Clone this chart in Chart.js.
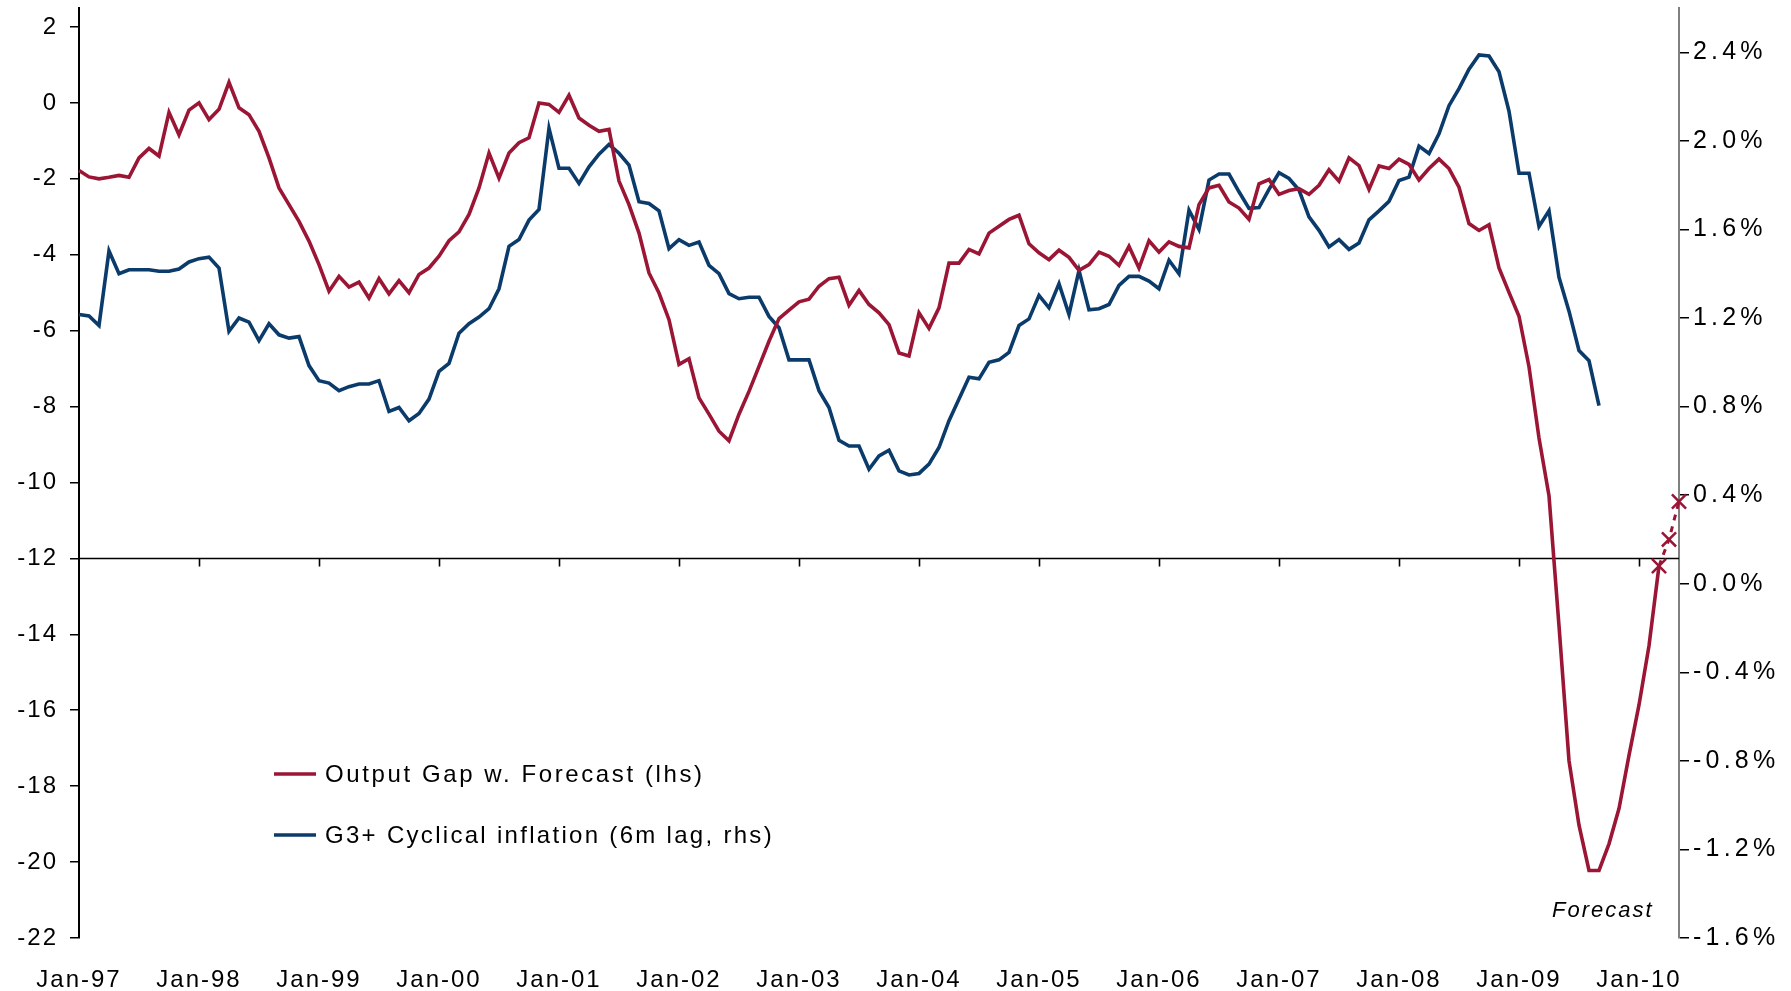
<!DOCTYPE html>
<html><head><meta charset="utf-8">
<script src="https://cdn.jsdelivr.net/npm/chart.js@4.4.1/dist/chart.umd.min.js"></script>
<style>html,body{margin:0;padding:0;background:#fff;}canvas{display:block}</style>
</head><body>
<canvas id="c" width="1791" height="991"></canvas>
<script>
// ---------- DATA ----------
const monthNames = ['Jan','Feb','Mar','Apr','May','Jun','Jul','Aug','Sep','Oct','Nov','Dec'];
const firstYear = 1997;
const monthCount = 161; // Jan-97 .. May-10
const categories = [];
for (let k = 0; k < monthCount; k++) {
  const yy = firstYear + Math.floor(k / 12);
  categories.push(monthNames[k % 12] + '-' + String(yy % 100).padStart(2, '0'));
}

// Output gap (lhs), Jan-97 .. Mar-10
const outputGap = [
  -1.78,-1.95,-2.00,-1.96,-1.91,-1.96,-1.45,-1.20,-1.40,-0.25,-0.84,-0.19,
  0.00,-0.44,-0.17,0.54,-0.13,-0.31,-0.75,-1.45,-2.24,-2.68,-3.12,-3.64,
  -4.26,-4.96,-4.57,-4.85,-4.72,-5.14,-4.63,-5.03,-4.68,-5.00,-4.52,-4.35,
  -4.04,-3.63,-3.40,-2.94,-2.24,-1.32,-1.98,-1.32,-1.05,-0.92,0.00,-0.04,
  -0.25,0.20,-0.40,-0.59,-0.75,-0.70,-2.06,-2.68,-3.43,-4.48,-5.01,-5.71,
  -6.89,-6.74,-7.77,-8.20,-8.65,-8.90,-8.20,-7.60,-6.94,-6.28,-5.68,-5.46,
  -5.24,-5.17,-4.83,-4.63,-4.59,-5.33,-4.94,-5.31,-5.53,-5.84,-6.59,-6.67,
  -5.53,-5.94,-5.40,-4.22,-4.22,-3.86,-3.98,-3.43,-3.25,-3.07,-2.96,-3.71,
  -3.95,-4.13,-3.88,-4.07,-4.41,-4.26,-3.93,-4.04,-4.28,-3.78,-4.35,-3.63,
  -3.93,-3.66,-3.78,-3.82,-2.68,-2.24,-2.17,-2.61,-2.77,-3.07,-2.13,-2.02,
  -2.41,-2.31,-2.26,-2.41,-2.17,-1.76,-2.06,-1.45,-1.65,-2.28,-1.66,-1.73,
  -1.48,-1.62,-2.03,-1.73,-1.48,-1.73,-2.22,-3.18,-3.36,-3.21,-4.35,-4.99,
  -5.62,-6.95,-8.83,-10.35,-13.78,-17.33,-19.03,-20.22,-20.22,-19.52,-18.59,-17.19,
  -15.86,-14.30,-12.20
];

// Forecast points (lhs), Mar-10 .. May-10
const forecastStart = 158;
const forecastGap = [-12.2, -11.5, -10.5];

// G3+ cyclical inflation, 6m lag (rhs, %), Jan-97 .. Sep-09
const cyclicalInflation = [
  1.216,1.209,1.166,1.503,1.400,1.418,1.418,1.418,1.411,1.411,1.421,1.453,
  1.468,1.475,1.426,1.140,1.200,1.181,1.098,1.174,1.124,1.109,1.116,0.985,
  0.917,0.906,0.872,0.890,0.902,0.902,0.917,0.778,0.796,0.736,0.769,0.834,
  0.959,0.995,1.131,1.174,1.204,1.242,1.332,1.524,1.554,1.642,1.690,2.057,
  1.876,1.876,1.808,1.883,1.940,1.984,1.944,1.891,1.725,1.717,1.684,1.513,
  1.554,1.528,1.543,1.438,1.400,1.310,1.287,1.294,1.294,1.207,1.156,1.011,
  1.011,1.011,0.872,0.796,0.648,0.622,0.622,0.517,0.577,0.603,0.510,0.491,
  0.498,0.540,0.615,0.736,0.834,0.932,0.925,1.000,1.011,1.045,1.166,1.196,
  1.302,1.246,1.355,1.216,1.415,1.237,1.242,1.261,1.347,1.388,1.388,1.367,
  1.332,1.461,1.400,1.687,1.600,1.823,1.850,1.850,1.770,1.695,1.699,1.781,
  1.856,1.830,1.778,1.657,1.596,1.521,1.554,1.510,1.539,1.643,1.684,1.727,
  1.821,1.836,1.976,1.943,2.032,2.159,2.236,2.324,2.388,2.383,2.312,2.134,
  1.854,1.854,1.613,1.684,1.384,1.231,1.053,1.007,0.804
];

const leftTicks = [-22,-20,-18,-16,-14,-12,-10,-8,-6,-4,-2,0,2];
const rightTicks = [-1.6,-1.2,-0.8,-0.4,0.0,0.4,0.8,1.2,1.6,2.0,2.4];
const xAxisCrossesAt = -12;
const legendLabels = ['Output Gap w. Forecast (lhs)', 'G3+ Cyclical inflation (6m lag, rhs)'];
const forecastNote = 'Forecast';

// ---------- STYLE ----------
const RED = '#9B1535';
const BLUE = '#0B3B6A';
const FONT = "'Liberation Sans', Arial, sans-serif";
const SPACING = '2px';
const RIGHT_SPACING = '4.2px';

function pad(arr, start, total) {
  const out = new Array(total).fill(null);
  arr.forEach((v, k) => { out[start + k] = v; });
  return out;
}

const spacingPlugin = {
  id: 'spacing',
  beforeLayout(chart) { chart.ctx.letterSpacing = SPACING; },
  afterLayout(chart) {
    const s = chart.scales.y1;
    if (!s._wrapped) {
      const orig = s.drawLabels;
      s.drawLabels = function (area) {
        const prev = this.ctx.letterSpacing;
        this.ctx.letterSpacing = RIGHT_SPACING;
        orig.call(this, area);
        this.ctx.letterSpacing = prev;
      };
      s._wrapped = true;
    }
  },
  beforeDraw(chart) { chart.ctx.letterSpacing = SPACING; }
};

const crossAxisPlugin = {
  id: 'crossAxis',
  beforeDatasetsDraw(chart) {
    const { ctx, chartArea, scales } = chart;
    const yy = Math.round(scales.y.getPixelForValue(xAxisCrossesAt)) + 0.5;
    ctx.save();
    ctx.strokeStyle = '#000';
    ctx.lineWidth = 1.6;
    ctx.beginPath();
    ctx.moveTo(chartArea.left, yy);
    ctx.lineTo(chartArea.right, yy);
    categories.forEach((c, k) => {
      if (k > 0 && c.startsWith('Jan')) {
        const px = Math.round(scales.x.getPixelForValue(k)) + 0.5;
        ctx.moveTo(px, yy);
        ctx.lineTo(px, yy + 8);
      }
    });
    ctx.stroke();
    ctx.restore();
  }
};

const legendPlugin = {
  id: 'customLegend',
  afterDraw(chart) {
    const { ctx } = chart;
    const colors = [RED, BLUE];
    const ys = [774, 835];
    const spacings = ['2.6px', '2.3px'];
    ctx.save();
    ctx.font = '24px ' + FONT;
    ctx.fillStyle = '#000';
    ctx.textBaseline = 'middle';
    ctx.textAlign = 'left';
    legendLabels.forEach((t, k) => {
      ctx.strokeStyle = colors[k];
      ctx.lineWidth = 3.5;
      ctx.beginPath();
      ctx.moveTo(274, ys[k]);
      ctx.lineTo(316, ys[k]);
      ctx.stroke();
      ctx.letterSpacing = spacings[k];
      ctx.fillText(t, 325, ys[k] + 1);
    });
    ctx.letterSpacing = SPACING;
    ctx.font = 'italic 22px ' + FONT;
    ctx.fillText(forecastNote, 1552, 911);
    ctx.restore();
  }
};

Chart.defaults.font.family = FONT;
Chart.defaults.font.size = 24;
Chart.defaults.color = '#000';

new Chart(document.getElementById('c').getContext('2d'), {
  type: 'line',
  data: {
    labels: categories,
    datasets: [
      { label: legendLabels[0], data: pad(outputGap, 0, monthCount), yAxisID: 'y',
        borderColor: RED, borderWidth: 3.6, pointRadius: 0, tension: 0, spanGaps: false },
      { label: legendLabels[1], data: pad(cyclicalInflation, 0, monthCount), yAxisID: 'y1',
        borderColor: BLUE, borderWidth: 3.6, pointRadius: 0, tension: 0, spanGaps: false },
      { label: forecastNote, data: pad(forecastGap, forecastStart, monthCount), yAxisID: 'y',
        borderColor: RED, borderWidth: 3, borderDash: [6, 6], pointStyle: 'crossRot',
        pointRadius: 10, pointBorderWidth: 2.5, pointBorderColor: RED, pointBackgroundColor: RED,
        tension: 0, clip: false }
    ]
  },
  options: {
    responsive: false,
    animation: false,
    events: [],
    layout: { autoPadding: false, padding: { top: 8, left: 0, right: 0, bottom: 0 } },
    plugins: { legend: { display: false }, tooltip: { enabled: false } },
    scales: {
      x: {
        type: 'category', offset: false,
        grid: { display: false, drawTicks: false }, border: { display: false },
        ticks: { autoSkip: false, maxRotation: 0, minRotation: 0, padding: 28,
          callback: (v, k) => categories[k].startsWith('Jan') ? categories[k] : null },
        afterFit: s => { s.height = 53; }
      },
      y: {
        position: 'left', min: -22, max: 2.5,
        afterBuildTicks: s => { s.ticks = leftTicks.map(v => ({ value: v })); },
        grid: { drawOnChartArea: false, tickLength: 9, color: '#000', lineWidth: 1.5 },
        border: { color: '#000', width: 2 },
        ticks: { padding: 12, callback: v => String(v) },
        afterFit: s => { s.width = 79; s.paddingTop = 0; s.paddingBottom = 0; }
      },
      y1: {
        position: 'right', min: -1.6, max: 2.6,
        afterBuildTicks: s => { s.ticks = rightTicks.map(v => ({ value: v })); },
        grid: { drawOnChartArea: false, tickLength: 10, color: '#000', lineWidth: 1.5 },
        border: { color: '#808080', width: 2 },
        ticks: { padding: 4, font: { size: 25 }, callback: v => v.toFixed(1) + '%' },
        afterFit: s => { s.width = 112; s.paddingTop = 0; s.paddingBottom = 0; }
      }
    }
  },
  plugins: [spacingPlugin, crossAxisPlugin, legendPlugin]
});
</script>
</body></html>
